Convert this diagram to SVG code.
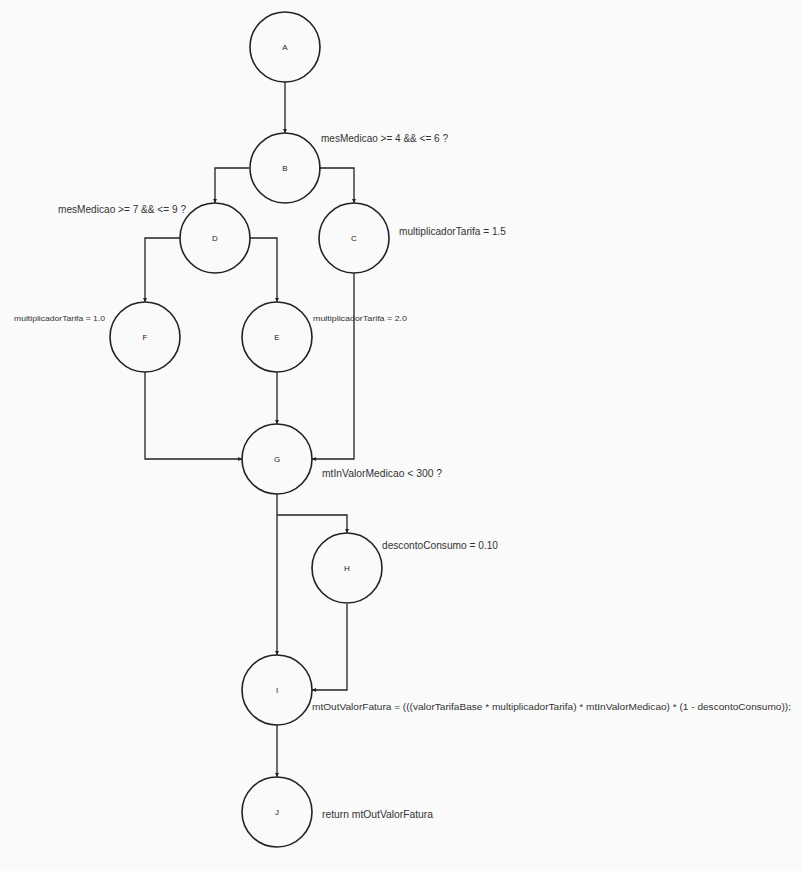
<svg xmlns="http://www.w3.org/2000/svg" width="802" height="871" viewBox="0 0 802 871">
<style>
.n{fill:none;stroke:#222;stroke-width:1.6}
.nl{font-family:"Liberation Sans",Arial,sans-serif;font-size:8px;fill:#222;text-anchor:middle}
.e{fill:none;stroke:#222;stroke-width:1.3}
.t{font-family:"Liberation Sans",Arial,sans-serif;font-size:11px;fill:#333}
.s{font-family:"Liberation Sans",Arial,sans-serif;font-size:8px;fill:#333}
</style>
<defs>
<marker id="ah" viewBox="0 0 6 6" refX="6" refY="3" markerWidth="4" markerHeight="4" orient="auto" markerUnits="userSpaceOnUse">
<path d="M0,0 L6,3 L0,6 z" fill="#222"/>
</marker>
</defs>
<rect width="802" height="871" fill="#fafafa"/>
<g id="connectors">
<path class="e" d="M285,82 V133" marker-end="url(#ah)"/>
<path class="e" d="M249,168 H215 V203" marker-end="url(#ah)"/>
<path class="e" d="M319,168 H354 V203" marker-end="url(#ah)"/>
<path class="e" d="M180,238 H145 V302" marker-end="url(#ah)"/>
<path class="e" d="M250,238 H277 V302" marker-end="url(#ah)"/>
<path class="e" d="M277,372 V424" marker-end="url(#ah)"/>
<path class="e" d="M145,372 V459 H242" marker-end="url(#ah)"/>
<path class="e" d="M354,273 V459 H312" marker-end="url(#ah)"/>
<path class="e" d="M277,494 V655" marker-end="url(#ah)"/>
<path class="e" d="M277,515 H347 V533" marker-end="url(#ah)"/>
<path class="e" d="M347,604 V690 H312" marker-end="url(#ah)"/>
<path class="e" d="M277,725 V777" marker-end="url(#ah)"/>
</g>
<g id="A"><circle class="n" cx="285" cy="47" r="35"/><text class="nl" x="285" y="50">A</text></g>
<g id="B"><circle class="n" cx="285" cy="168" r="35"/><text class="nl" x="285" y="171">B</text></g>
<g id="D"><circle class="n" cx="215" cy="238" r="35"/><text class="nl" x="215" y="241">D</text></g>
<g id="C"><circle class="n" cx="354" cy="238" r="35"/><text class="nl" x="354" y="241">C</text></g>
<g id="F"><circle class="n" cx="145" cy="337" r="35"/><text class="nl" x="145" y="340">F</text></g>
<g id="E"><circle class="n" cx="277" cy="337" r="35"/><text class="nl" x="277" y="340">E</text></g>
<g id="G"><circle class="n" cx="277" cy="459" r="35"/><text class="nl" x="277" y="462">G</text></g>
<g id="H"><circle class="n" cx="347" cy="568" r="35"/><text class="nl" x="347" y="571">H</text></g>
<g id="I"><circle class="n" cx="277" cy="690" r="35"/><text class="nl" x="277" y="693">I</text></g>
<g id="J"><circle class="n" cx="277" cy="812" r="35"/><text class="nl" x="277" y="815">J</text></g>
<g id="labels">
<text class="t" x="321" y="142" textLength="127" lengthAdjust="spacingAndGlyphs">mesMedicao &gt;= 4 &amp;&amp; &lt;= 6 ?</text>
<text class="t" x="58" y="213" textLength="128" lengthAdjust="spacingAndGlyphs">mesMedicao &gt;= 7 &amp;&amp; &lt;= 9 ?</text>
<text class="t" x="399" y="235" textLength="107" lengthAdjust="spacingAndGlyphs">multiplicadorTarifa = 1.5</text>
<text class="s" x="14" y="321" textLength="91" lengthAdjust="spacingAndGlyphs">multiplicadorTarifa = 1.0</text>
<text class="s" x="313" y="321" textLength="94" lengthAdjust="spacingAndGlyphs">multiplicadorTarifa = 2.0</text>
<text class="t" x="322" y="477" textLength="120" lengthAdjust="spacingAndGlyphs">mtInValorMedicao &lt; 300 ?</text>
<text class="t" x="382" y="549" textLength="116" lengthAdjust="spacingAndGlyphs">descontoConsumo = 0.10</text>
<text class="t" x="312" y="710" style="font-size:9.2px" textLength="479" lengthAdjust="spacingAndGlyphs">mtOutValorFatura = (((valorTarifaBase * multiplicadorTarifa) * mtInValorMedicao) * (1 - descontoConsumo));</text>
<text class="t" x="322" y="818" textLength="111" lengthAdjust="spacingAndGlyphs">return mtOutValorFatura</text>
</g>
</svg>
